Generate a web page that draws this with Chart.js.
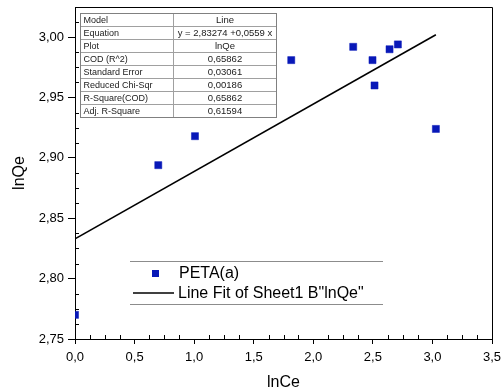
<!DOCTYPE html>
<html><head><meta charset="utf-8">
<script src="https://cdn.jsdelivr.net/npm/chart.js@4"></script>
<style>html,body{margin:0;padding:0;background:#fff;}#wrap{width:502px;height:391px;}</style>
</head><body><div id="wrap"><canvas id="c" width="502" height="391"></canvas></div>
<script>
const seriesName = 'PETA(a)';
const lnCe = [0.000, 0.699, 1.007, 1.815, 2.335, 2.497, 2.514, 2.640, 2.710, 3.029];
const lnQe = [2.770, 2.894, 2.918, 2.981, 2.992, 2.981, 2.960, 2.990, 2.994, 2.924];
const fitName = 'Line Fit of Sheet1 B"lnQe"';
const fitX = [0.000, 3.029];
const fitY = [2.833, 3.002];
const xTicks = [0, 0.5, 1.0, 1.5, 2.0, 2.5, 3.0, 3.5];
const xTickLabels = ['0,0', '0,5', '1,0', '1,5', '2,0', '2,5', '3,0', '3,5'];
const yTicks = [2.75, 2.80, 2.85, 2.90, 2.95, 3.00];
const yTickLabels = ['2,75', '2,80', '2,85', '2,90', '2,95', '3,00'];
const tableLabels = ['Model', 'Equation', 'Plot', 'COD (R^2)', 'Standard Error', 'Reduced Chi-Sqr', 'R-Square(COD)', 'Adj. R-Square'];
const tableValues = ['Line', 'y = 2,83274 +0,0559 x', 'lnQe', '0,65862', '0,03061', '0,00186', '0,65862', '0,61594'];

const FONT = '"Liberation Sans", Arial, sans-serif';
const BLUE = '#0818b8';

const deco = {
  id: 'deco',
  afterDraw(chart) {
    const {ctx, chartArea: a, scales: {x, y}} = chart;
    ctx.save();
    ctx.strokeStyle = '#000';
    ctx.lineWidth = 1;
    ctx.beginPath();
    ctx.moveTo(a.left, Math.round(a.top) + 0.5);
    ctx.lineTo(Math.round(a.right) + 0.5, Math.round(a.top) + 0.5);
    ctx.lineTo(Math.round(a.right) + 0.5, a.bottom);
    ctx.stroke();
    // minor ticks (inward)
    ctx.beginPath();
    for (let i = 0; i < xTicks.length - 1; i++) {
      for (let k = 1; k < 4; k++) {
        const v = xTicks[i] + (xTicks[i + 1] - xTicks[i]) * k / 4;
        const px = Math.round(x.getPixelForValue(v)) + 0.5;
        ctx.moveTo(px, a.bottom); ctx.lineTo(px, a.bottom - 4);
      }
    }
    const ystep = (yTicks[1] - yTicks[0]) / 4;
    for (let k = 1; yTicks[0] + k * ystep < y.max; k++) {
      if (k % 4 === 0) continue;
      const py = Math.round(y.getPixelForValue(yTicks[0] + k * ystep)) + 0.5;
      ctx.moveTo(a.left, py); ctx.lineTo(a.left + 4, py);
    }
    ctx.stroke();

    // table
    const tl = 80.5, tr = 276.5, tt = 13.5, rh = 12.95, cx = 173.5;
    const tb = tt + rh * tableLabels.length;
    ctx.fillStyle = '#fff';
    ctx.fillRect(tl, tt, tr - tl, tb - tt);
    ctx.strokeStyle = '#a0a0a0';
    ctx.beginPath();
    for (let i = 1; i < tableLabels.length; i++) {
      const yy = Math.round(tt + rh * i) + 0.5;
      ctx.moveTo(tl, yy); ctx.lineTo(tr, yy);
    }
    ctx.moveTo(cx, tt); ctx.lineTo(cx, tb);
    ctx.stroke();
    ctx.strokeStyle = '#808080';
    ctx.strokeRect(tl, tt, tr - tl, Math.round(tb) + 0.5 - tt);
    ctx.fillStyle = '#1a1a1a';
    ctx.textBaseline = 'middle';
    for (let i = 0; i < tableLabels.length; i++) {
      const yc = tt + rh * (i + 0.5) + 0.5;
      ctx.font = '9px ' + FONT;
      ctx.textAlign = 'left';
      ctx.fillText(tableLabels[i], tl + 3, yc);
      ctx.font = '9.5px ' + FONT;
      ctx.textAlign = 'center';
      ctx.fillText(tableValues[i], (cx + tr) / 2, yc);
    }

    // legend
    const ds = chart.data.datasets;
    ctx.strokeStyle = '#8c8c8c';
    ctx.lineWidth = 1;
    ctx.beginPath();
    ctx.moveTo(130, 261.5); ctx.lineTo(383, 261.5);
    ctx.moveTo(130, 304.5); ctx.lineTo(383, 304.5);
    ctx.stroke();
    ctx.fillStyle = BLUE;
    ctx.fillRect(152, 270, 7, 7);
    ctx.strokeStyle = '#000';
    ctx.lineWidth = 1.6;
    ctx.beginPath();
    ctx.moveTo(133, 293); ctx.lineTo(174, 293);
    ctx.stroke();
    ctx.fillStyle = '#000';
    ctx.font = '16px ' + FONT;
    ctx.textAlign = 'left';
    ctx.textBaseline = 'middle';
    ctx.fillText(ds[0].label, 179, 273.5);
    ctx.fillText(ds[1].label, 178, 293.5);
    ctx.restore();
  }
};

new Chart(document.getElementById('c'), {
  type: 'scatter',
  data: {
    datasets: [
      {
        label: seriesName,
        data: lnCe.map((v, i) => ({x: v, y: lnQe[i]})),
        pointStyle: 'rect',
        pointRadius: 5,
        pointBorderWidth: 0.5,
        backgroundColor: BLUE,
        borderColor: BLUE,
        clip: 0
      },
      {
        type: 'line',
        label: fitName,
        data: fitX.map((v, i) => ({x: v, y: fitY[i]})),
        borderColor: '#000',
        borderWidth: 1.6,
        pointRadius: 0,
        fill: false
      }
    ]
  },
  options: {
    responsive: false,
    animation: false,
    devicePixelRatio: 1,
    layout: {padding: {left: 0, top: 7, right: 10, bottom: 0}},
    plugins: {legend: {display: false}, tooltip: {enabled: false}},
    scales: {
      x: {
        type: 'linear', min: 0, max: 3.5,
        afterFit(s) { s.height = 52; s.paddingLeft = 0; s.paddingRight = 0; },
        afterBuildTicks(s) { s.ticks = xTicks.map(v => ({value: v})); },
        ticks: {
          callback: (v, i) => xTickLabels[i],
          font: {family: FONT, size: 13}, color: '#000', padding: 6, maxRotation: 0
        },
        grid: {drawOnChartArea: false, drawTicks: true, tickLength: 5, color: '#000', lineWidth: 1},
        border: {display: true, color: '#000', width: 1},
        title: {display: true, text: 'lnCe', font: {family: FONT, size: 16, lineHeight: 1}, color: '#000', padding: 0}
      },
      y: {
        type: 'linear', min: 2.75, max: 3.025,
        afterFit(s) { s.width = 75; s.paddingTop = 0; s.paddingBottom = 0; },
        afterBuildTicks(s) { s.ticks = yTicks.map(v => ({value: v})); },
        ticks: {
          callback: (v, i) => yTickLabels[i],
          font: {family: FONT, size: 13}, color: '#000', padding: 4
        },
        grid: {drawOnChartArea: false, drawTicks: true, tickLength: 7, color: '#000', lineWidth: 1},
        border: {display: true, color: '#000', width: 1},
        title: {display: true, text: 'lnQe', font: {family: FONT, size: 16, lineHeight: 1}, color: '#000', padding: {top: 12, bottom: 0}}
      }
    }
  },
  plugins: [deco]
});
</script>
</body></html>
